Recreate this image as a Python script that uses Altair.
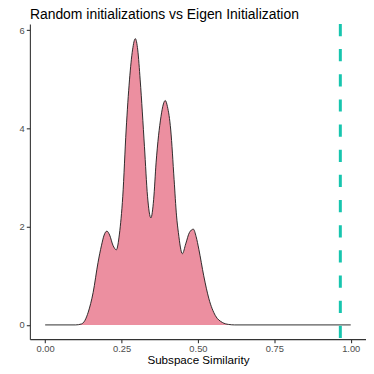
import altair as alt
import pandas as pd

# density curve
sim_x = [0.00, 0.10, 0.119, 0.130, 0.141, 0.157, 0.173, 0.184, 0.193, 0.202, 0.211,
         0.222, 0.233, 0.243, 0.254, 0.265, 0.276, 0.286, 0.295, 0.303, 0.311, 0.325,
         0.335, 0.346, 0.355, 0.363, 0.379, 0.387, 0.393, 0.400, 0.411, 0.422, 0.430,
         0.436, 0.449, 0.460, 0.472, 0.485, 0.494, 0.503, 0.519, 0.536, 0.557, 0.580,
         0.600, 0.620, 1.00]
density = [0, 0, 0.02, 0.09, 0.26, 0.66, 1.27, 1.61, 1.83, 1.91, 1.83,
           1.62, 1.53, 1.85, 2.62, 3.97, 4.99, 5.60, 5.83, 5.60, 4.99, 3.63,
           2.62, 2.18, 2.55, 3.30, 4.24, 4.50, 4.57, 4.45, 3.97, 2.96, 2.22,
           1.88, 1.45, 1.65, 1.88, 1.95, 1.80, 1.54, 1.00, 0.53, 0.19, 0.05,
           0.01, 0, 0]
eigen_value = [0.966]

title_text = "Random initializations vs Eigen Initialization"
x_title = "Subspace Similarity"
x_ticks = [0.0, 0.25, 0.5, 0.75, 1.0]
y_ticks = [0, 2, 4, 6]

df = pd.DataFrame({"x": sim_x, "y": density})
vdf = pd.DataFrame({"v": eigen_value})

W, H = 338, 317
xscale = alt.Scale(domain=[-0.05, 1.05], nice=False, zero=False)
yscale = alt.Scale(domain=[-0.29, 6.13], nice=False, zero=False)

xaxis = alt.Axis(values=x_ticks, format=".2f", title=x_title,
                 titleBaseline="alphabetic", titleY=24)
yaxis = alt.Axis(values=y_ticks, format="d", title=None)

area = alt.Chart(df).mark_area(color="#EC8FA0", interpolate="monotone").encode(
    x=alt.X("x:Q", scale=xscale, axis=xaxis),
    y=alt.Y("y:Q", scale=yscale, axis=yaxis),
    y2=alt.datum(0),
)
line = alt.Chart(df).mark_line(color="#1a1a1a", strokeWidth=0.9, interpolate="monotone").encode(
    x=alt.X("x:Q", scale=xscale),
    y=alt.Y("y:Q", scale=yscale),
)
vline = alt.Chart(vdf).mark_rule(color="#17C5AE", strokeWidth=3, strokeDash=[12.3, 13]).encode(
    x=alt.X("v:Q", scale=xscale),
    y=alt.value(0),
    y2=alt.value(H),
)

chart = alt.layer(area, line, vline).properties(
    width=W, height=H,
    title=alt.TitleParams(title_text, anchor="start", frame="group", fontSize=14,
                          font="Liberation Sans", fontWeight="normal", color="#000000",
                          offset=0),
    autosize=alt.AutoSizeParams(type="none"),
    padding={"left": 22, "top": 15, "right": 0, "bottom": 26},
).configure_view(stroke=None).configure_axis(
    grid=False,
    domainColor="#333333", domainWidth=1.1,
    tickColor="#333333", tickWidth=1.1, tickSize=3.6,
    labelColor="#4d4d4d", labelFont="Liberation Sans", labelFontSize=9.4,
    labelPadding=2,
    titleFont="Liberation Sans", titleFontSize=11.7, titleFontWeight="normal",
    titleColor="#000000",
)

chart.save("out.html", embed_options={"renderer": "svg", "actions": False})
